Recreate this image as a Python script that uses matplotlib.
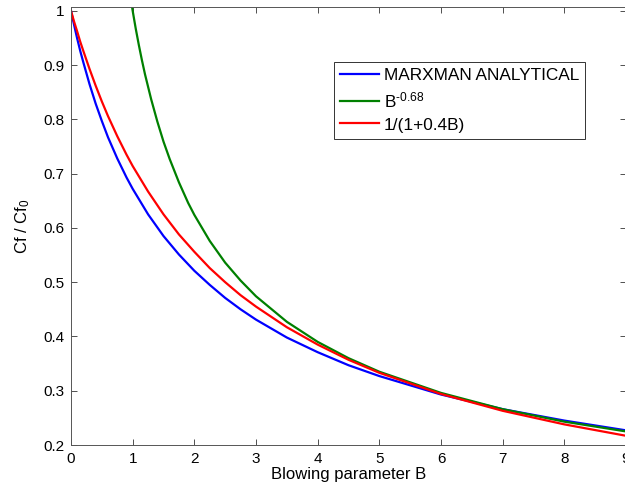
import numpy as np
import matplotlib
matplotlib.use('Agg')
import matplotlib.pyplot as plt

# Valores
B_blue = [0, 0.05, 0.1, 0.15, 0.2, 0.3, 0.4, 0.5, 0.6, 0.75, 0.9, 1, 1.25, 1.5, 1.75,
          2, 2.25, 2.5, 2.75, 3, 3.5, 4, 4.5, 5, 6, 7, 8, 9]
cf_marxman = [1.0, 0.974, 0.949, 0.926, 0.905, 0.865, 0.829, 0.797, 0.767, 0.728, 0.693,
              0.672, 0.625, 0.585, 0.551, 0.521, 0.495, 0.471, 0.450, 0.431, 0.398,
              0.371, 0.347, 0.327, 0.293, 0.266, 0.245, 0.227]

B_green = [0.9, 1, 1.05, 1.1, 1.15, 1.2, 1.3, 1.4, 1.5, 1.6, 1.75, 1.9, 2, 2.25, 2.5,
           2.75, 3, 3.5, 4, 4.5, 5, 6, 7, 8, 9]
cf_power = [1.074, 1.0, 0.967, 0.937, 0.909, 0.883, 0.837, 0.796, 0.759, 0.727, 0.684,
            0.646, 0.624, 0.576, 0.536, 0.503, 0.474, 0.427, 0.390, 0.360, 0.335,
            0.296, 0.266, 0.243, 0.225]

B_red = [0, 0.05, 0.1, 0.15, 0.2, 0.3, 0.4, 0.5, 0.6, 0.75, 0.9, 1, 1.25, 1.5, 1.75,
         2, 2.25, 2.5, 2.75, 3, 3.5, 4, 4.5, 5, 6, 7, 8, 9]
cf_ratio = [1.0, 0.980, 0.962, 0.943, 0.926, 0.893, 0.862, 0.833, 0.806, 0.769, 0.735,
            0.714, 0.667, 0.625, 0.588, 0.556, 0.526, 0.500, 0.476, 0.455, 0.417,
            0.385, 0.357, 0.333, 0.294, 0.263, 0.238, 0.217]

labels = ['MARXMAN ANALYTICAL', r'B$^{\text{-}0.68}$', '1/(1+0.4B)']

plt.rcParams['font.family'] = ['Liberation Sans', 'DejaVu Sans']
plt.rcParams['mathtext.fontset'] = 'custom'
plt.rcParams['mathtext.rm'] = 'Liberation Sans'
plt.rcParams['mathtext.it'] = 'Liberation Sans'

fig = plt.figure(figsize=(6.25, 4.9), dpi=100)
ax = fig.add_axes([71 / 625, 45 / 490, 555 / 625, 438 / 490])

ax.plot(B_blue, cf_marxman, color=(0, 0, 1), lw=1.6, label=labels[0])
ax.plot(B_green, cf_power, color=(0, 0.5, 0), lw=1.6, label=labels[1])
ax.plot(B_red, cf_ratio, color=(1, 0, 0), lw=1.6, label=labels[2])

ax.set_xlim(0, 9)
ax.set_ylim(0.2, 1.007)
ax.set_xticks(range(0, 10))
ax.set_yticks([0.2, 0.3, 0.4, 0.5, 0.6, 0.7, 0.8, 0.9, 1.0])
ax.set_yticklabels(['0.2', '0.3', '0.4', '0.5', '0.6', '0.7', '0.8', '0.9', '1'])
ax.tick_params(direction='in', top=True, right=True, length=4, width=0.6,
               labelsize=11, colors='#333333', labelcolor='black', pad=5)
for s in ax.spines.values():
    s.set_color('#555555')
    s.set_linewidth(0.7)

ax.set_xlabel('Blowing parameter B', fontsize=12, labelpad=1)
ax.set_ylabel(r'Cf / Cf$_0$', fontsize=12, labelpad=8)

leg = ax.legend(loc='upper left', bbox_to_anchor=(334 / 625, 1 - 62 / 490),
                bbox_transform=fig.transFigure, borderaxespad=0, fancybox=False,
                fontsize=12.4, handlelength=2.25, handletextpad=0.3,
                labelspacing=0.42, borderpad=0.35, framealpha=1)
leg.get_frame().set_edgecolor('#333333')
leg.get_frame().set_linewidth(0.7)

fig.savefig('out.png', dpi=100)
